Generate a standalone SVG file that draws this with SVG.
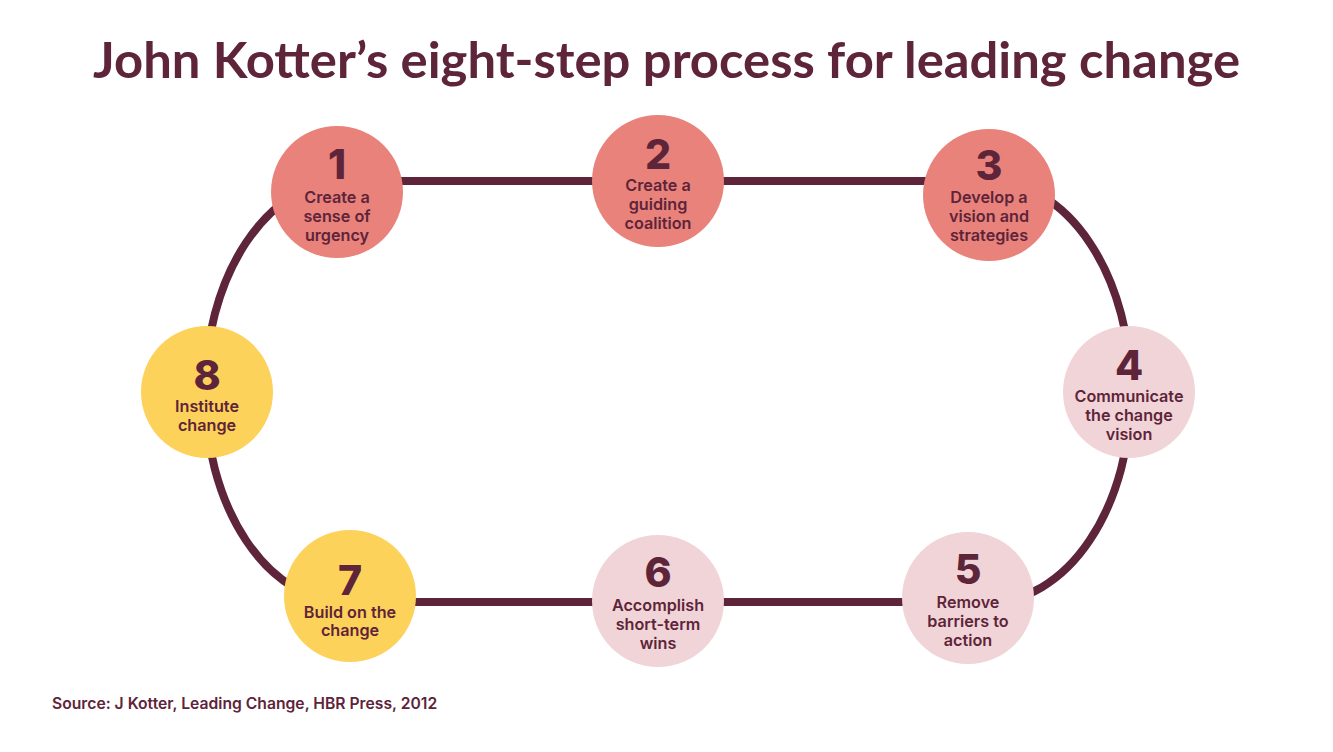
<svg xmlns="http://www.w3.org/2000/svg" width="1333" height="752" viewBox="0 0 1333 752">
<style>
.title{font-family:"Lato","Liberation Sans",sans-serif;font-weight:700;font-size:49px;fill:#5e2439}
.num{font-family:"Inter","Lato","Liberation Sans",sans-serif;font-weight:800;font-size:41px;fill:#5e2439;text-anchor:middle}
.lbl{font-family:"Inter","Lato","Liberation Sans",sans-serif;font-weight:600;font-size:16.2px;fill:#5e2439;text-anchor:middle}
.src{font-family:"Inter","Lato","Liberation Sans",sans-serif;font-weight:600;font-size:15.7px;fill:#5e2439}
.track{fill:none;stroke:#5e2439;stroke-width:8}
.salmon{fill:#e8827b}
.pink{fill:#f0d4d7}
.yellow{fill:#fdd25a}
</style>
<rect width="1333" height="752" fill="#ffffff"/>
<text class="title" x="93" y="78" textLength="1147" lengthAdjust="spacingAndGlyphs">John Kotter’s eight-step process for leading change</text>
<g id="connectors">
<path class="track" d="M345,181 L990,181 A141,210.5 0 0 1 990,602 L345,602 A140,210.5 0 0 1 345,181 Z"/>
</g>
<g id="node1"><circle class="salmon" cx="337" cy="192" r="66"/><text class="num" x="337" y="179">1</text><text class="lbl" x="337" y="203">Create a</text><text class="lbl" x="337" y="222">sense of</text><text class="lbl" x="337" y="241">urgency</text></g>
<g id="node2"><circle class="salmon" cx="658" cy="181" r="66"/><text class="num" x="658" y="169">2</text><text class="lbl" x="658" y="191">Create a</text><text class="lbl" x="658" y="210">guiding</text><text class="lbl" x="658" y="229">coalition</text></g>
<g id="node3"><circle class="salmon" cx="989" cy="195" r="66"/><text class="num" x="989" y="180">3</text><text class="lbl" x="989" y="203">Develop a</text><text class="lbl" x="989" y="222">vision and</text><text class="lbl" x="989" y="241">strategies</text></g>
<g id="node4"><circle class="pink" cx="1129" cy="392" r="66"/><text class="num" x="1129" y="380">4</text><text class="lbl" x="1129" y="402">Communicate</text><text class="lbl" x="1129" y="421">the change</text><text class="lbl" x="1129" y="440">vision</text></g>
<g id="node5"><circle class="pink" cx="968" cy="598" r="66"/><text class="num" x="968" y="584">5</text><text class="lbl" x="968" y="608">Remove</text><text class="lbl" x="968" y="627">barriers to</text><text class="lbl" x="968" y="646">action</text></g>
<g id="node6"><circle class="pink" cx="658" cy="601" r="66"/><text class="num" x="658" y="587">6</text><text class="lbl" x="658" y="611">Accomplish</text><text class="lbl" x="658" y="630">short-term</text><text class="lbl" x="658" y="649">wins</text></g>
<g id="node7"><circle class="yellow" cx="350" cy="596" r="66"/><text class="num" x="350" y="595">7</text><text class="lbl" x="350" y="618">Build on the</text><text class="lbl" x="350" y="636">change</text></g>
<g id="node8"><circle class="yellow" cx="207" cy="392" r="66"/><text class="num" x="207" y="390">8</text><text class="lbl" x="207" y="412">Institute</text><text class="lbl" x="207" y="431">change</text></g>
<text class="src" x="52" y="709">Source: J Kotter, Leading Change, HBR Press, 2012</text>
</svg>
